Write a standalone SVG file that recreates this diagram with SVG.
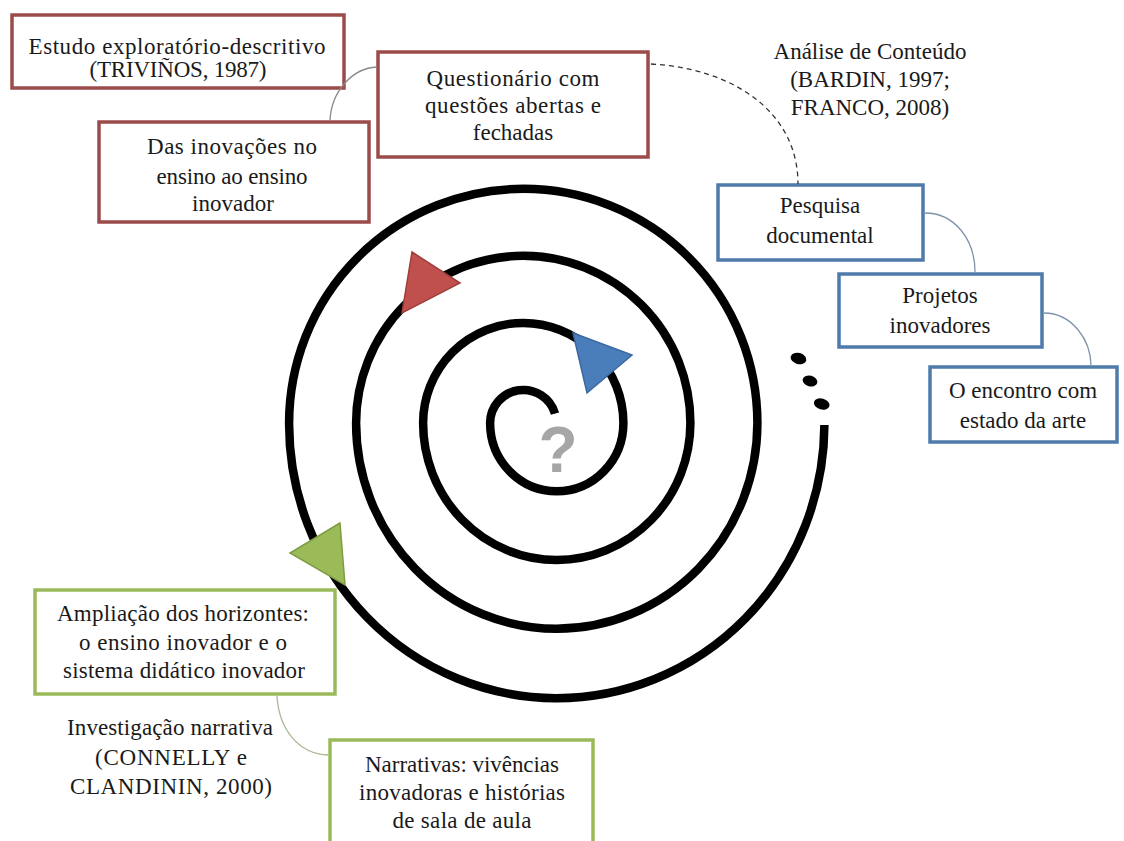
<svg xmlns="http://www.w3.org/2000/svg" width="1124" height="841" viewBox="0 0 1124 841">
<style>
.t{font-family:"Liberation Serif","Times New Roman",serif;font-size:23px;fill:#1a1a1a;text-anchor:middle}
.br{fill:#fff;stroke:#9c4b4b;stroke-width:3.5}
.bb{fill:#fff;stroke:#4f7bab;stroke-width:3.5}
.bg{fill:#fff;stroke:#9aba5a;stroke-width:3.5}
.c{fill:none;stroke-width:1.3}
</style>
<rect width="1124" height="841" fill="#fff"/>
<g id="spiral">
<path fill="none" stroke="#000" stroke-width="8.5" d="M555,413.6 A33.15,33.15 0 0 0 490.1,423 A66.65,68.3 0 0 0 623.4,423 A100.15,100.15 0 0 0 423.1,423 A133.65,137 0 0 0 690.4,423 A167.15,167.15 0 0 0 356.1,423 A200.65,205.7 0 0 0 757.4,423 A234.15,234.15 0 0 0 289.1,423 A267.65,274.3 0 0 0 824.4,425"/>
<ellipse cx="798.5" cy="358.5" rx="8" ry="5.6" transform="rotate(15 798.5 358.5)"/>
<ellipse cx="810" cy="381" rx="7.5" ry="5.4" transform="rotate(15 810 381)"/>
<ellipse cx="821.7" cy="404" rx="8" ry="5.5" transform="rotate(15 821.7 404)"/>
<polygon points="412,252 460,283 402,313" fill="#c0504d" stroke="#a03e3b" stroke-width="1.5"/>
<polygon points="573,333 632,355 587,393" fill="#4a7ebb" stroke="#3a68a0" stroke-width="1.5"/>
<polygon points="340,523 290,553 345,585" fill="#9bbb59" stroke="#7f9c45" stroke-width="1.5"/>
<text x="558" y="472" font-family="Liberation Sans, Arial, sans-serif" font-weight="bold" font-size="64" fill="#a6a6a6" text-anchor="middle">?</text>
</g>
<g id="n1">
<rect class="br" x="12" y="15" width="332" height="73"/>
<text class="t" x="177" y="54" textLength="297" lengthAdjust="spacing">Estudo exploratório-descritivo</text>
<text class="t" x="178" y="77" textLength="177" lengthAdjust="spacing">(TRIVIÑOS, 1987)</text>
</g>
<g id="n2">
<rect class="br" x="378" y="52" width="270" height="105"/>
<text class="t" x="513" y="86" textLength="173" lengthAdjust="spacing">Questionário com</text>
<text class="t" x="513" y="113" textLength="176" lengthAdjust="spacing">questões abertas e</text>
<text class="t" x="513" y="140">fechadas</text>
</g>
<g id="n3">
<rect class="br" x="99" y="122" width="270" height="100"/>
<text class="t" x="232" y="154" textLength="170" lengthAdjust="spacing">Das inovações no</text>
<text class="t" x="232" y="184" textLength="151" lengthAdjust="spacing">ensino ao ensino</text>
<text class="t" x="233" y="211">inovador</text>
</g>
<g id="n4">
<text class="t" x="870" y="59">Análise de Conteúdo</text>
<text class="t" x="870" y="87">(BARDIN, 1997;</text>
<text class="t" x="870" y="115">FRANCO, 2008)</text>
</g>
<g id="n5">
<rect class="bb" x="718" y="185" width="205" height="75"/>
<text class="t" x="820" y="213">Pesquisa</text>
<text class="t" x="820" y="243">documental</text>
</g>
<g id="n6">
<rect class="bb" x="839" y="274" width="203" height="73"/>
<text class="t" x="940" y="303">Projetos</text>
<text class="t" x="940" y="333">inovadores</text>
</g>
<g id="n7">
<rect class="bb" x="930" y="367" width="187" height="75"/>
<text class="t" x="1023" y="398">O encontro com</text>
<text class="t" x="1023" y="428">estado da arte</text>
</g>
<g id="n8">
<rect class="bg" x="35" y="590" width="300" height="104"/>
<text class="t" x="183" y="621" textLength="252" lengthAdjust="spacing">Ampliação dos horizontes:</text>
<text class="t" x="183" y="650" textLength="208" lengthAdjust="spacing">o ensino inovador e o</text>
<text class="t" x="184" y="678" textLength="242" lengthAdjust="spacing">sistema didático inovador</text>
</g>
<g id="n9">
<text class="t" x="170" y="735" font-size="24" textLength="206" lengthAdjust="spacing">Investigação narrativa</text>
<text class="t" x="171" y="765" font-size="24" textLength="152" lengthAdjust="spacing">(CONNELLY e</text>
<text class="t" x="171" y="794" font-size="24" textLength="202" lengthAdjust="spacing">CLANDININ, 2000)</text>
</g>
<g id="n10">
<rect class="bg" x="330" y="740" width="263" height="120"/>
<text class="t" x="462" y="772" textLength="194" lengthAdjust="spacing">Narrativas: vivências</text>
<text class="t" x="462" y="800" textLength="206" lengthAdjust="spacing">inovadoras e histórias</text>
<text class="t" x="462" y="828" textLength="139" lengthAdjust="spacing">de sala de aula</text>
</g>
<g id="connectors">
<path class="c" stroke="#8a8a8a" d="M377,67 C352,68 331,92 330,121"/>
<path class="c" stroke="#333" stroke-width="1.6" stroke-dasharray="5,4" d="M651,64 C730,68 798,110 798,184"/>
<path class="c" stroke="#7f93ab" d="M925,213 C955,213 975,240 975,272"/>
<path class="c" stroke="#7f93ab" d="M1044,313 C1072,313 1091,340 1091,366"/>
<path class="c" stroke="#a9b995" d="M277,696 C279,730 299,754 328,755"/>
</g>
</svg>
